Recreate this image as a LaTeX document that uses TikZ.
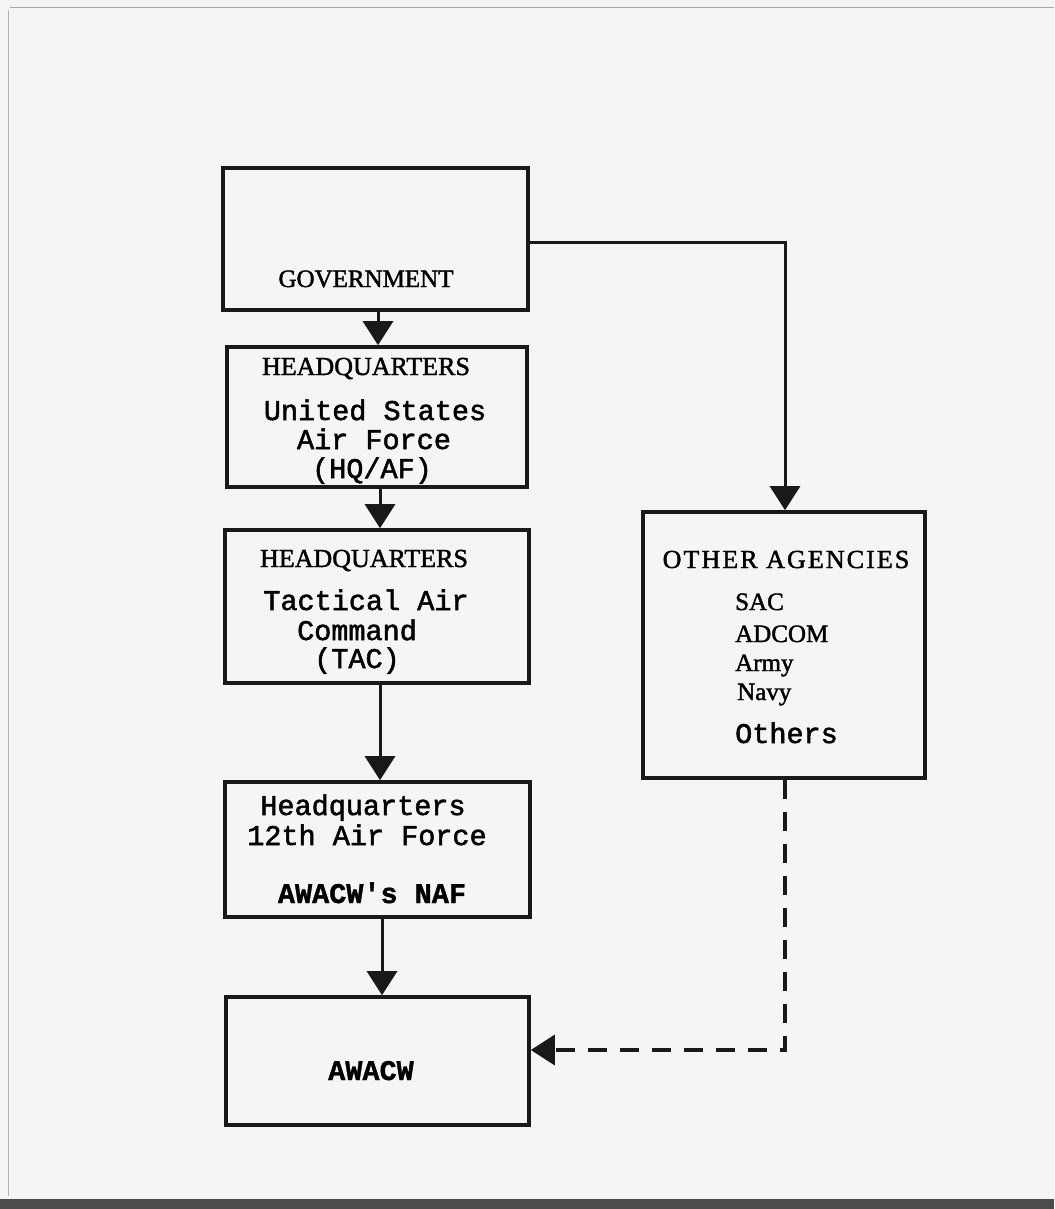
\documentclass[tikz,border=0pt]{standalone}
\usepackage{fontspec}
\setmainfont{Liberation Serif}[FakeBold=1.6]
\newfontfamily\tw{Liberation Mono}[FakeBold=1.8]
\newfontfamily\twb{Liberation Mono Bold}[FakeBold=1.2]
\usetikzlibrary{arrows.meta}
\tikzset{
  box/.style={draw=black!90, line width=3.6pt, rectangle, inner sep=0pt},
  arr/.style={draw=black!90, line width=3pt, -{Triangle[width=30pt,length=24pt]}},
  darr/.style={arr, line width=3.4pt, dash pattern=on 19pt off 13pt},
  captxt/.style={font=\fontsize{26}{26}\selectfont, anchor=base, inner sep=0pt},
  mono/.style={font=\tw\fontsize{28.5}{28.5}\selectfont, anchor=base, inner sep=0pt},
  bmono/.style={font=\twb\fontsize{28.5}{28.5}\selectfont, anchor=base, inner sep=0pt},
  lst/.style={font=\fontsize{25}{25}\selectfont, inner sep=0pt, anchor=base west}
}
\begin{document}
\begin{tikzpicture}[x=1pt,y=-1pt]
\fill[white!96!black] (0,0) rectangle (1054,1209);
\useasboundingbox (0,0) rectangle (1054,1209);
% page frame from the scan
\draw[black!35, line width=1pt] (10,8) -- (1054,8);
\draw[black!30, line width=1pt] (8,10) -- (8,1196);
\fill[black!70] (0,1199) rectangle (1054,1209);

% boxes
\node[box, minimum width=305pt, minimum height=142pt] (gov) at (375.5,239) {};
\node[box, minimum width=300pt, minimum height=140pt] (hqaf) at (377,417) {};
\node[box, minimum width=304pt, minimum height=153pt] (tac) at (377,606.5) {};
\node[box, minimum width=305pt, minimum height=135pt] (naf) at (377.5,849.5) {};
\node[box, minimum width=303pt, minimum height=128pt] (awacw) at (377.5,1061) {};
\node[box, minimum width=282pt, minimum height=266pt] (other) at (784,645) {};

% texts
\node[captxt, font=\fontsize{25}{25}\selectfont] (t1) at (366,287) {GOVERNMENT};

\node[captxt] (t2) at (366,375) {HEADQUARTERS};
\node[mono] (t3) at (375,420) {United States};
\node[mono] (t4) at (374,449) {Air Force};
\node[mono] (t5) at (372,478) {(HQ/AF)};

\node[captxt] (t6) at (364,567) {HEADQUARTERS};
\node[mono] (t7) at (366,610) {Tactical Air};
\node[mono] (t8) at (357,640) {Command};
\node[mono] (t9) at (357,668) {(TAC)};

\node[mono] (t10) at (363,815) {Headquarters};
\node[mono] (t11) at (367,845) {12th Air Force};
\node[bmono] (t12) at (372,903) {AWACW's NAF};

\node[bmono] (t13) at (371,1080) {AWACW};

\node[captxt] (t14) at (786,568) {\addfontfeatures{LetterSpace=8}OTHER AGENCIES};
\node[lst] (t15) at (735,610) {SAC};
\node[lst] (t16) at (735,642) {ADCOM};
\node[lst] (t17) at (735,671) {Army};
\node[lst] (t18) at (737,700) {Navy};
\node[mono, anchor=base west] (t19) at (735,743) {Others};

% connectors
\draw[arr] ([xshift=2.5pt]gov.south) -- ([xshift=2.5pt]gov.south |- hqaf.north);
\draw[arr] ([xshift=3pt]hqaf.south) -- ([xshift=3pt]hqaf.south |- tac.north);
\draw[arr] ([xshift=3pt]tac.south) -- ([xshift=3pt]tac.south |- naf.north);
\draw[arr] ([xshift=4.5pt]naf.south) -- ([xshift=4.5pt]naf.south |- awacw.north);
\draw[arr] ([yshift=-3pt]gov.east) -| ([xshift=1pt]other.north);
\draw[darr] ([xshift=1pt]other.south) |- ([yshift=11pt]awacw.east);
\end{tikzpicture}
\end{document}
